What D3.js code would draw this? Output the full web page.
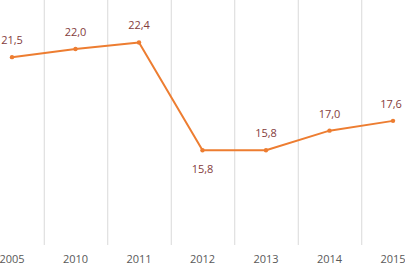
<!DOCTYPE html>
<html><head><meta charset="utf-8">
<script src="https://cdn.jsdelivr.net/npm/d3@7"></script>
<style>html,body{margin:0;padding:0;background:#fff;overflow:hidden}</style>
</head><body>
<svg id="c" width="405" height="266"></svg>
<script>
const years = ["2005","2010","2011","2012","2013","2014","2015"];
const values = [21.5, 22.0, 22.4, 15.8, 15.8, 17.0, 17.6];
const labelBelow = [false, false, false, true, false, false, false];

const svg = d3.select("#c");
const x = d3.scaleBand().domain(years).range([-19.75, 424.75]);
const y = d3.scaleLinear().domain([10, 25]).range([245, 0]);
const cx = d => x(d) + x.bandwidth()/2;

// gridlines between categories
const bounds = years.slice(1).map(d => x(d));
svg.selectAll("line.grid").data(bounds).enter().append("line")
  .attr("x1", d => d + 0.5).attr("x2", d => d + 0.5)
  .attr("y1", 0).attr("y2", 245)
  .attr("stroke", "#d9d9d9").attr("stroke-width", 1);

// x tick labels
svg.selectAll("text.tick").data(years).enter().append("text")
  .attr("x", d => cx(d)).attr("y", 263)
  .attr("text-anchor", "middle")
  .attr("font-family", "Open Sans, Liberation Sans, sans-serif")
  .attr("font-size", 11).attr("fill", "#595959")
  .text(d => d);

const pts = years.map((d,i) => ({k:d, v:values[i], below:labelBelow[i]}));
const line = d3.line().x(d => cx(d.k)).y(d => y(d.v));
svg.append("path").datum(pts).attr("d", line)
  .attr("fill", "none").attr("stroke", "#ed7d31").attr("stroke-width", 2)
  .attr("stroke-linejoin", "round");
svg.selectAll("circle.pt").data(pts).enter().append("circle")
  .attr("cx", d => cx(d.k)).attr("cy", d => y(d.v)).attr("r", 2.2)
  .attr("fill", "#ed7d31");

svg.selectAll("text.lbl").data(pts).enter().append("text")
  .attr("x", d => cx(d.k) + (d.k === "2015" ? -2 : 0))
  .attr("y", d => d.below ? y(d.v) + 23 : y(d.v) - 13)
  .attr("text-anchor", "middle")
  .attr("font-family", "Open Sans, Liberation Sans, sans-serif")
  .attr("font-size", 11).attr("fill", "#843c3c")
  .text(d => d3.format(".1f")(d.v).replace(".", ","));
</script>
</body></html>
